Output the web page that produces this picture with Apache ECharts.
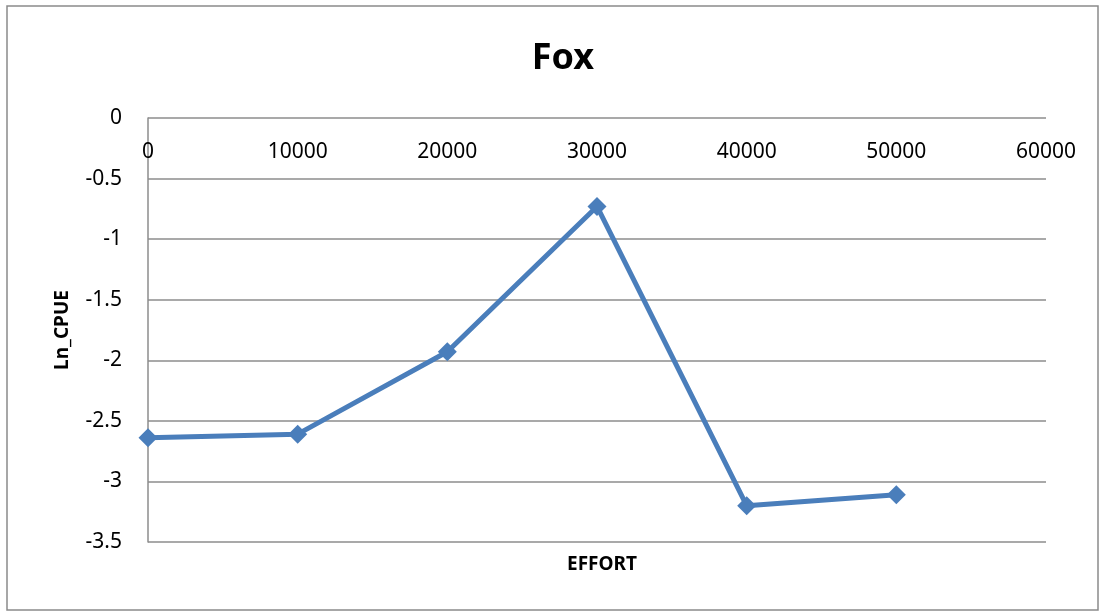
<!DOCTYPE html>
<html>
<head>
<meta charset="utf-8">
<script src="https://cdn.jsdelivr.net/npm/echarts@6/dist/echarts.min.js"></script>
<style>
  html, body { margin: 0; padding: 0; background: #fff; }
  #chart { width: 1105px; height: 613px; }
</style>
</head>
<body>
<div id="chart"></div>
<script>
// effort (x) vs ln_cpue (y)
const effort = [0, 10000, 20000, 30000, 40000, 50000]
const lnCpue = [-2.64, -2.61, -1.93, -0.73, -3.20, -3.11]

const xTicks = { min: 0, max: 60000, step: 10000 }
const yTicks = { min: -3.5, max: 0, step: 0.5 }

const chart = echarts.init(document.getElementById('chart'))

const font = '"Noto Sans", "Liberation Sans", sans-serif'
const gridColor = '#8c8c8c'

const option = {
  backgroundColor: '#fff',
  animation: false,
  title: [
    {
      text: 'Fox',
      left: 558,
      top: 36,
      textAlign: 'center',
      textStyle: { fontFamily: font, fontSize: 36, fontWeight: 'bold', color: '#000' }
    },
    {
      text: 'EFFORT',
      left: 597,
      top: 550,
      textAlign: 'center',
      textStyle: { fontFamily: font, fontSize: 19, fontWeight: 'bold', color: '#000' }
    }
  ],
  graphic: [
    {
      type: 'rect',
      shape: { x: 7, y: 6, width: 1091, height: 604 },
      style: { fill: 'none', stroke: '#8a8a8a', lineWidth: 1.5 },
      silent: true
    }
  ],
  grid: {
    left: 148,
    right: 59,
    top: 118,
    bottom: 71
  },
  xAxis: {
    type: 'value',
    position: 'top',
    min: xTicks.min,
    max: xTicks.max,
    interval: xTicks.step,
    axisLine: { show: false },
    axisTick: { show: false },
    splitLine: { show: false },
    axisLabel: {
      inside: true,
      margin: 24,
      fontFamily: font,
      fontSize: 21,
      color: '#000',
      formatter: v => String(v)
    }
  },
  yAxis: {
    type: 'value',
    min: yTicks.min,
    max: yTicks.max,
    interval: yTicks.step,
    name: 'Ln_CPUE',
    nameLocation: 'middle',
    nameGap: 76,
    nameTextStyle: { fontFamily: font, fontSize: 19, fontWeight: 'bold', color: '#000' },
    axisLine: { show: true, lineStyle: { color: gridColor, width: 1.5 } },
    axisTick: { show: false },
    splitLine: { show: true, lineStyle: { color: gridColor, width: 1.5 } },
    axisLabel: {
      margin: 26,
      fontFamily: font,
      fontSize: 21,
      color: '#000',
      formatter: v => String(v)
    }
  },
  series: [
    {
      type: 'line',
      data: effort.map((x, i) => [x, lnCpue[i]]),
      symbol: 'diamond',
      symbolSize: 19,
      lineStyle: { color: '#4a7ebb', width: 5 },
      itemStyle: { color: '#4a7ebb' }
    }
  ]
}

chart.setOption(option)
</script>
</body>
</html>
